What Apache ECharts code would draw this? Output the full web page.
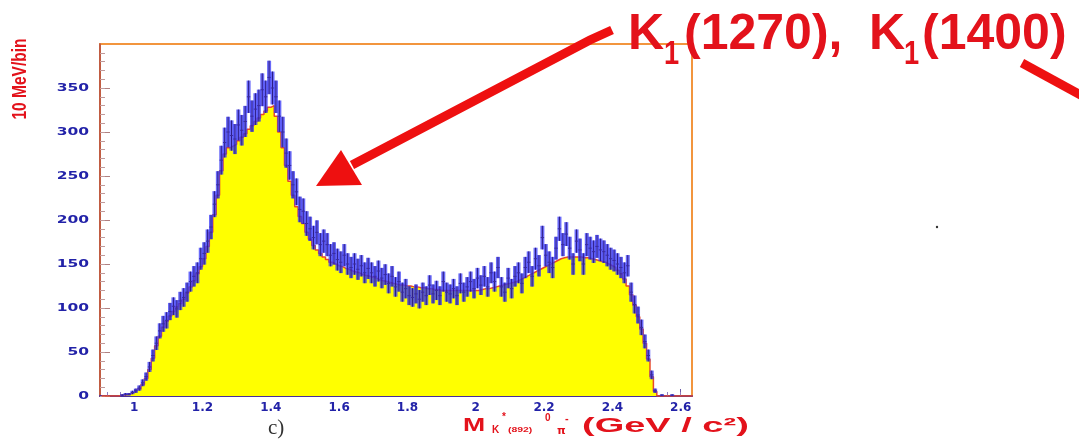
<!DOCTYPE html>
<html>
<head>
<meta charset="utf-8">
<script src="https://cdn.jsdelivr.net/npm/echarts@6/dist/echarts.min.js"></script>
<style>
    html, body { margin: 0; padding: 0; background: #fff; }
    #chart { width: 1079px; height: 441px; }
</style>
</head>
<body>
<div id="chart"></div>
<script>
// histogram binning: 10 MeV bins starting at 0.90 GeV
const binLow = 0.90;
const binWidth = 0.01;

// fitted distribution (yellow area), one value per bin
const fitCounts = [
    0, 0, 0, 0, 0, 0, 1, 1, 2, 3,
    5, 8, 13, 20, 30, 43, 57, 68, 78, 85,
    91, 96, 101, 105, 110, 117, 124, 131, 139, 147,
    156, 170, 186, 206, 228, 256, 275, 282, 284, 286,
    290, 294, 298, 303, 307, 312, 316, 320, 324, 328,
    330, 318, 300, 282, 262, 244, 228, 215, 204, 196,
    186, 178, 171, 166, 162, 158, 155, 152, 150, 148,
    147, 145, 144, 142, 141, 140, 138, 137, 136, 135,
    134, 132, 131, 130, 129, 128, 127, 126, 126, 125,
    125, 124, 124, 123, 123, 122, 122, 121, 121, 120,
    120, 120, 120, 120, 120, 120, 120, 120, 120, 120,
    120, 121, 122, 122, 123, 124, 125, 126, 127, 128,
    129, 130, 132, 134, 136, 138, 140, 142, 144, 146,
    148, 150, 152, 154, 156, 157, 158, 158, 158, 158,
    158, 157, 157, 156, 155, 154, 153, 152, 150, 148,
    146, 143, 139, 133, 125, 115, 103, 90, 76, 60,
    42, 22, 5, 0, 0, 0, 0, 0, 0, 0,
    0, 0, 0, 0
];

// measured data (blue points with errors), one value per bin
const dataCounts = [
    0, 0, 0, 0, 0, 0, 1, 2, 2, 4,
    6, 9, 15, 22, 33, 46, 60, 74, 82, 86,
    96, 102, 99, 108, 112, 118, 130, 136, 140, 156,
    162, 176, 192, 218, 240, 268, 288, 300, 296, 292,
    308, 302, 312, 340, 318, 326, 330, 348, 340, 362,
    350, 340, 318, 300, 276, 262, 240, 232, 212, 210,
    196, 190, 180, 186, 172, 176, 172, 160, 162, 155,
    152, 160, 150, 146, 150, 144, 148, 140, 145, 140,
    136, 142, 134, 138, 128, 136, 124, 130, 118, 122,
    114, 112, 116, 110, 118, 114, 126, 116, 120, 114,
    130, 118, 116, 122, 114, 128, 118, 124, 130, 122,
    134, 126, 136, 124, 140, 130, 146, 124, 118, 134,
    122, 136, 140, 128, 146, 152, 136, 156, 148, 180,
    160, 152, 146, 168, 190, 172, 184, 168, 150, 176,
    166, 150, 172, 168, 164, 170, 166, 164, 160, 156,
    154, 150, 146, 140, 148, 118, 104, 92, 78, 62,
    46, 24, 6, 0, 1, 0, 0, 1, 0, 0,
    0, 0, 0, 0
];

const xTickLabels = [1, 1.2, 1.4, 1.6, 1.8, 2, 2.2, 2.4, 2.6];
const yTickLabels = [0, 50, 100, 150, 200, 250, 300, 350];

const xMin = 0.9, xMax = 2.633;
const yMin = 0, yMax = 400;

// minor tick positions
const xMinor = [];
for (let i = 0; i <= 43; i++) xMinor.push(+(0.92 + i * 0.04).toFixed(2));
const yMinor = [];
for (let i = 0; i <= 39; i++) yMinor.push(i * 10);

const fitPoints = fitCounts.map((c, i) => [+(binLow + (i + 0.5) * binWidth).toFixed(3), c]);
const dataPoints = dataCounts.map((c, i) => [+(binLow + (i + 0.5) * binWidth).toFixed(3), c]);

const red = '#e3121b';
const blueLabel = '#2222a8';
const arrowRed = '#ee1010';

const chart = echarts.init(document.getElementById('chart'));

chart.setOption({
    animation: false,
    backgroundColor: '#fff',
    grid: {
        left: 100, top: 44, width: 592, height: 352,
        show: true, borderColor: '#f2953e', borderWidth: 2, backgroundColor: '#fff'
    },
    xAxis: [{
        type: 'value', min: xMin, max: xMax,
        axisLine: { show: true, onZero: false, lineStyle: { color: '#4b2f9a', width: 2 } },
        axisTick: { show: true, inside: true, length: 7, customValues: xTickLabels, lineStyle: { color: '#6b5aa8' } },
        axisLabel: {
            customValues: xTickLabels, color: blueLabel, fontSize: 12, fontWeight: 'bold',
            fontFamily: 'DejaVu Sans', margin: 6
        },
        splitLine: { show: false }
    }, {
        type: 'value', min: xMin, max: xMax, position: 'bottom',
        axisLine: { show: false },
        axisTick: { show: true, inside: true, length: 4, customValues: xMinor, lineStyle: { color: '#8f7fc0' } },
        axisLabel: { show: false },
        splitLine: { show: false }
    }],
    yAxis: [{
        type: 'value', min: yMin, max: yMax,
        axisLine: { show: true, onZero: false, lineStyle: { color: '#b04a44', width: 1.5 } },
        axisTick: { show: true, inside: true, length: 10, customValues: yTickLabels, lineStyle: { color: '#b08080' } },
        axisLabel: { show: false },
        splitLine: { show: false }
    }, {
        type: 'value', min: yMin, max: yMax, position: 'left',
        axisLine: { show: false },
        axisTick: { show: true, inside: true, length: 5, customValues: yMinor, lineStyle: { color: '#c09a9a' } },
        axisLabel: { show: false },
        splitLine: { show: false }
    }],
    series: [{
        // fit: yellow filled histogram with red outline
        type: 'line',
        data: fitPoints,
        step: 'middle',
        symbol: 'none',
        lineStyle: { color: '#e8492a', width: 1.5 },
        areaStyle: { color: '#ffff00', opacity: 1 },
        z: 2
    }, {
        // data with error bars
        type: 'custom',
        data: dataPoints,
        z: 3,
        renderItem: function (params, api) {
            const x = api.value(0);
            const v = api.value(1);
            if (v <= 0) return null;
            const err = Math.sqrt(v);
            const tl = api.coord([x - binWidth / 2, v + err]);
            const br = api.coord([x + binWidth / 2, v - err]);
            const mid = api.coord([x, v]);
            return {
                type: 'group',
                children: [{
                    type: 'rect',
                    shape: { x: tl[0] - 0.3, y: tl[1], width: br[0] - tl[0] + 0.6, height: br[1] - tl[1] },
                    style: { fill: 'rgba(55,55,245,0.75)' }
                }, {
                    type: 'line',
                    shape: { x1: mid[0], y1: tl[1], x2: mid[0], y2: br[1] },
                    style: { stroke: '#2c1d86', lineWidth: 1 }
                }, {
                    type: 'line',
                    shape: { x1: tl[0], y1: mid[1], x2: br[0], y2: mid[1] },
                    style: { stroke: '#3a2aa0', lineWidth: 1 }
                }]
            };
        }
    }]
});

// y tick labels: stretched wide like the original, placed through the y scale
const yLabelGraphics = yTickLabels.map(v => {
    const py = chart.convertToPixel({ yAxisIndex: 0 }, v);
    return {
        type: 'text', x: 89, y: py, scaleX: 1.55,
        style: { text: String(v), fill: blueLabel, font: 'bold 10px "DejaVu Sans"', align: 'right', verticalAlign: 'middle' }
    };
});

chart.setOption({
    graphic: yLabelGraphics.concat([
        // y axis title
        {
            type: 'text', x: 20, y: 79, rotation: Math.PI / 2, scaleX: 0.74,
            style: { text: '10 MeV/bin', fill: red, font: 'bold 21px "Liberation Sans"', align: 'center', verticalAlign: 'middle' }
        },
        // panel tag
        {
            type: 'text', x: 268, y: 428,
            style: { text: 'c)', fill: '#333', font: '21px "Liberation Serif"', align: 'left', verticalAlign: 'middle' }
        },
        // x axis title pieces
        { type: 'text', x: 463, y: 426, scaleX: 1.4, style: { text: 'M', fill: red, font: 'bold 19px "Liberation Sans"', align: 'left', verticalAlign: 'middle' } },
        { type: 'text', x: 492, y: 430, style: { text: 'K', fill: red, font: 'bold 10px "Liberation Sans"', align: 'left', verticalAlign: 'middle' } },
        { type: 'text', x: 502, y: 417, style: { text: '*', fill: red, font: 'bold 10px "Liberation Sans"', align: 'left', verticalAlign: 'middle' } },
        { type: 'text', x: 508, y: 430, scaleX: 1.3, style: { text: '(892)', fill: red, font: 'bold 8px "Liberation Sans"', align: 'left', verticalAlign: 'middle' } },
        { type: 'text', x: 545, y: 418, style: { text: '0', fill: red, font: 'bold 10px "Liberation Sans"', align: 'left', verticalAlign: 'middle' } },
        { type: 'text', x: 557, y: 431, style: { text: 'π', fill: red, font: 'bold 11px "DejaVu Sans"', align: 'left', verticalAlign: 'middle' } },
        { type: 'text', x: 565, y: 419, style: { text: '-', fill: red, font: 'bold 11px "Liberation Sans"', align: 'left', verticalAlign: 'middle' } },
        { type: 'text', x: 582, y: 426, scaleX: 1.9, style: { text: '(GeV / c²)', fill: red, font: 'bold 20px "Liberation Sans"', align: 'left', verticalAlign: 'middle' } },
        // resonance annotation
        { type: 'text', x: 628, y: 35, style: { text: 'K', fill: red, font: 'bold 50px "Liberation Sans"', align: 'left', verticalAlign: 'middle' } },
        { type: 'text', x: 664, y: 55, scaleX: 0.8, style: { text: '1', fill: red, font: 'bold 34px "Liberation Sans"', align: 'left', verticalAlign: 'middle' } },
        { type: 'text', x: 684, y: 35, style: { text: '(1270),', fill: red, font: 'bold 50px "Liberation Sans"', align: 'left', verticalAlign: 'middle' } },
        { type: 'text', x: 869, y: 35, style: { text: 'K', fill: red, font: 'bold 50px "Liberation Sans"', align: 'left', verticalAlign: 'middle' } },
        { type: 'text', x: 904, y: 55, scaleX: 0.8, style: { text: '1', fill: red, font: 'bold 34px "Liberation Sans"', align: 'left', verticalAlign: 'middle' } },
        { type: 'text', x: 922, y: 35, style: { text: '(1400)', fill: red, font: 'bold 50px "Liberation Sans"', align: 'left', verticalAlign: 'middle' } },
        // arrow to the curve
        { type: 'polyline', shape: { points: [[612, 30], [590, 40], [352, 165]] }, style: { stroke: arrowRed, lineWidth: 9, lineCap: 'butt', fill: null }, z: 10 },
        { type: 'polygon', shape: { points: [[316, 186], [362, 185], [341, 150]] }, style: { fill: arrowRed }, z: 10 },
        // arrow leaving to the right
        { type: 'polyline', shape: { points: [[1022, 63], [1090, 100]] }, style: { stroke: arrowRed, lineWidth: 9, fill: null }, z: 10 },
        // scan speck
        { type: 'circle', shape: { cx: 937, cy: 227, r: 1.2 }, style: { fill: '#333' } }
    ])
});
</script>
</body>
</html>
